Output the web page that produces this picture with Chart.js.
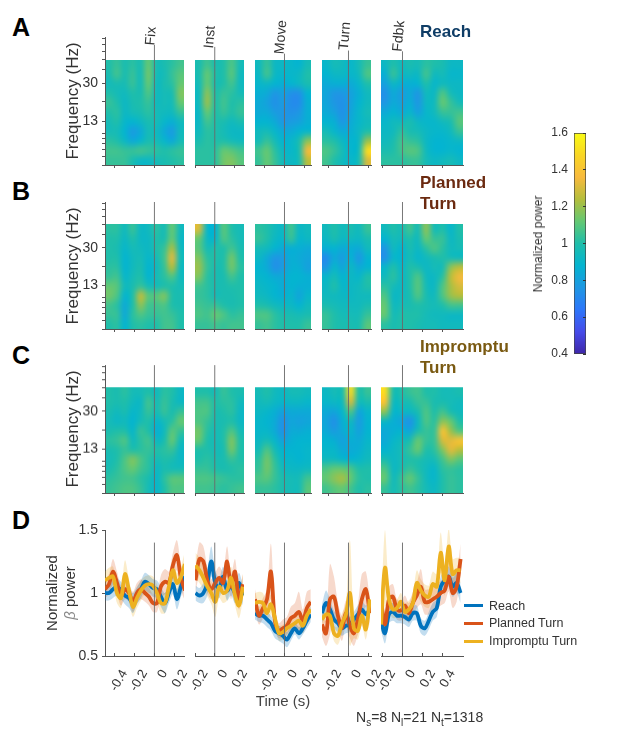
<!DOCTYPE html>
<html lang="en">
<head>
<meta charset="UTF-8">
<title>Normalized power</title>
<script src="https://cdn.jsdelivr.net/npm/chart.js@4"></script>
<style>
  html, body { margin: 0; padding: 0; background: #fff; }
  body { width: 617px; height: 738px; position: relative; overflow: hidden; font-family: "Liberation Sans", sans-serif; color: #333; }
  canvas { position: absolute; }
  .t { position: absolute; white-space: nowrap; line-height: 1; }
  .c { transform: translate(-50%, -50%); }
  .letter { font-weight: bold; font-size: 25px; color: #000; }
  .title { font-weight: bold; font-size: 17px; line-height: 21px; }
  sub { font-size: 10px; vertical-align: -4px; line-height: 0; }
</style>
</head>
<body>
<script>
// event panels
const panelNames = ['Fix', 'Inst', 'Move', 'Turn', 'Fdbk'];
const panelMin = [-0.495, -0.2, -0.296, -0.266, -0.216];
const panelMax = [0.296, 0.296, 0.266, 0.226, 0.608];
const panelTicks = [[-0.4, -0.2, 0, 0.2], [-0.2, 0, 0.2], [-0.2, 0, 0.2], [-0.2, 0, 0.2], [-0.2, 0, 0.2, 0.4]];

// frequency axis (Hz)
const freqTicks = [5, 6, 7, 8, 9, 10, 13, 20, 30, 40, 50, 60, 70, 80];
const freqLabels = [13, 30];
const freqImageTop = 50, freqImageBottom = 5, freqAxisTop = 82;
const eventTopReach = [69, 66, 57, 61, 60];

// power maps, percent of baseline, rows run from 50 Hz down to 5 Hz
const heatReach = [
  [[100,104,98,102,98,112,97,98,102,106],
   [98,106,98,104,96,114,96,96,104,110],
   [95,98,97,104,96,112,94,98,102,112],
   [100,96,94,100,98,108,94,96,98,116],
   [104,100,92,98,100,104,94,96,96,112],
   [100,102,92,96,98,102,96,94,94,104],
   [96,100,90,88,92,98,96,90,86,94],
   [96,96,88,78,84,96,94,84,78,94],
   [102,100,92,84,90,98,96,90,84,96],
   [106,106,104,104,106,104,102,100,102,104],
   [104,104,104,98,92,92,96,98,100,102]],
  [[98,106,98,100,108,96],
   [98,112,100,100,110,94],
   [96,112,98,100,106,94],
   [94,118,100,104,102,96],
   [94,120,100,106,100,102],
   [92,112,100,104,100,104],
   [92,106,100,98,94,98],
   [94,102,100,96,92,92],
   [98,102,100,100,96,94],
   [102,102,102,112,110,106],
   [102,102,102,114,116,110]],
  [[94,104,92,92,90,88,96],
   [92,106,92,90,90,92,100],
   [90,92,88,86,88,92,98],
   [86,84,76,80,74,74,88],
   [84,80,74,78,72,72,86],
   [84,84,78,76,74,76,86],
   [88,88,84,76,78,80,86],
   [94,96,90,84,84,88,90],
   [96,104,96,88,90,98,118],
   [106,112,102,92,90,98,135],
   [104,112,104,94,92,96,125]],
  [[90,96,94,90,96,104],
   [88,92,92,90,94,108],
   [84,86,86,84,90,100],
   [82,76,76,80,86,94],
   [82,76,74,80,88,94],
   [84,80,74,82,90,96],
   [88,86,76,84,90,94],
   [96,90,84,86,92,100],
   [102,100,92,88,92,120],
   [108,104,96,88,94,150],
   [106,100,94,90,96,130]],
  [[92,100,94,98,96,102,100,98,92,92],
   [86,104,92,94,92,106,94,96,90,90],
   [80,92,86,86,88,100,90,94,92,92],
   [74,84,78,84,76,94,92,108,96,92],
   [76,84,80,86,76,92,94,112,104,96],
   [84,88,84,90,80,90,94,104,104,106],
   [90,94,94,98,92,90,90,94,98,110],
   [92,94,102,98,96,92,90,90,94,104],
   [94,98,106,104,102,92,88,88,90,92],
   [98,100,106,110,108,94,88,88,90,88],
   [102,102,102,104,104,96,92,94,96,92]]
];
const heatPlanned = [
  [[102,102,94,104,92,94,102,96,112,94],
   [100,100,92,100,92,92,100,98,112,92],
   [100,98,90,96,94,92,100,104,122,94],
   [100,100,88,94,96,90,96,106,132,96],
   [102,102,88,94,98,88,94,104,124,94],
   [104,106,90,96,100,88,96,102,108,94],
   [112,110,94,98,104,96,96,100,100,96],
   [114,108,88,100,126,110,110,116,100,98],
   [106,102,84,100,118,106,106,108,100,98],
   [104,104,84,102,108,104,104,106,104,100],
   [100,102,88,100,102,100,100,106,106,100]],
  [[130,90,88,110,100,96],
   [112,92,90,108,102,96],
   [110,96,100,100,106,98],
   [116,102,100,100,114,100],
   [120,104,98,100,114,102],
   [116,102,98,98,106,100],
   [106,102,98,98,100,100],
   [104,102,96,98,98,100],
   [106,104,104,100,98,100],
   [108,106,112,108,102,104],
   [104,104,106,104,106,106]],
  [[102,100,94,92,106,92,94],
   [104,100,92,90,104,90,92],
   [96,94,88,84,86,86,84],
   [92,84,76,78,86,84,82],
   [88,84,74,78,86,86,80],
   [90,88,84,84,88,88,86],
   [92,90,88,84,88,86,86],
   [94,92,88,86,90,82,90],
   [100,98,94,92,92,88,94],
   [108,108,102,98,98,96,98],
   [104,106,102,100,100,100,104]],
  [[94,100,94,98,94,104],
   [92,98,92,94,92,98],
   [86,88,84,86,84,94],
   [72,84,78,88,76,88],
   [76,90,82,92,84,88],
   [90,96,88,92,90,100],
   [92,100,90,92,94,100],
   [94,94,92,92,94,94],
   [98,96,94,94,94,98],
   [104,100,96,96,96,104],
   [104,100,98,98,98,110]],
  [[94,100,96,106,96,118,96,100,90,100],
   [88,96,94,100,94,112,104,104,92,98],
   [76,94,88,98,92,102,108,102,94,96],
   [74,90,88,96,90,94,98,100,96,94],
   [90,100,90,100,98,92,96,96,118,125],
   [94,102,92,100,108,94,92,102,125,135],
   [102,96,92,100,110,96,92,108,122,130],
   [108,92,94,98,108,98,94,108,120,124],
   [112,94,96,98,100,98,96,100,106,106],
   [112,96,100,100,100,96,94,94,92,92],
   [102,98,100,100,98,96,96,94,94,94]]
];
const heatImpromptu = [
  [[100,98,102,96,96,100,94,102,100,92],
   [100,98,100,94,92,106,96,104,98,92],
   [98,94,98,90,94,104,96,104,98,104],
   [96,92,94,88,96,100,90,96,102,112],
   [98,100,100,90,104,100,86,94,110,104],
   [102,104,108,94,102,106,92,98,112,96],
   [98,100,104,100,102,104,100,102,104,92],
   [96,100,108,116,108,102,96,100,98,92],
   [98,102,108,112,106,102,92,98,96,96],
   [102,104,106,106,102,98,90,102,110,110],
   [104,106,108,108,104,96,90,100,108,108]],
  [[100,100,96,104,100,98],
   [106,106,100,102,102,94],
   [108,108,98,100,102,92],
   [108,104,98,98,100,92],
   [114,102,96,100,108,96],
   [112,100,96,100,116,100],
   [100,100,96,98,114,100],
   [100,102,98,98,104,100],
   [104,104,100,98,100,102],
   [108,108,106,104,102,102],
   [106,106,104,102,104,106]],
  [[96,100,94,92,96,96,94],
   [94,96,92,90,92,92,90],
   [92,90,86,80,84,84,84],
   [90,88,84,74,82,80,82],
   [90,90,84,74,84,84,86],
   [92,96,90,80,86,88,88],
   [96,108,96,88,88,88,90],
   [102,114,102,90,90,88,90],
   [104,114,104,94,92,92,94],
   [108,110,104,98,96,96,106],
   [104,104,102,98,96,96,110]],
  [[92,96,98,150,100,104],
   [90,92,94,130,96,98],
   [84,82,90,108,82,90],
   [82,74,86,94,78,88],
   [84,78,84,90,80,88],
   [88,86,80,86,84,90],
   [90,90,84,84,86,92],
   [94,94,90,88,90,94],
   [108,112,112,108,100,100],
   [112,118,122,112,102,100],
   [106,110,112,106,100,102]],
  [[150,98,100,104,106,100,100,96,96,98],
   [140,94,96,98,104,104,98,98,96,94],
   [118,90,92,92,98,108,100,106,98,94],
   [92,86,82,74,92,108,102,118,112,100],
   [84,86,88,82,98,104,104,140,120,108],
   [84,90,94,98,112,104,104,130,132,140],
   [88,92,96,104,112,100,102,116,132,125],
   [98,92,96,100,100,96,96,106,116,110],
   [108,92,98,104,100,94,90,102,104,102],
   [112,94,104,112,104,94,90,100,104,102],
   [104,96,102,106,102,96,92,100,104,102]]
];

// beta power traces, one sample every 0.04 s from lineStart of each panel
const lineStart = [-0.495, -0.195, -0.296, -0.266, -0.216];
const lineStep = 0.04;
const betaReach = [
  [1.0,1.0,1.03,1.05,1.02,.98,.96,.92,.98,1.03,1.09,1.07,1.04,1.03,.97,.92,1.0,1.07,.95,1.05,1.13],
  [1.0,.98,1.0,1.08,1.25,1.08,1.04,1.13,1.02,1.06,1.0,1.08,.98],
  [.84,.82,.82,.79,.76,.7,.68,.66,.63,.68,.72,.68,.72,.78,.83],
  [.84,.92,.87,.79,.76,.72,.74,.75,.79,.83,.87,.83,.87],
  [.78,.68,.83,.85,.82,.82,.81,.79,.84,.84,.74,.72,.78,.85,.88,1.05,1.1,1.13,1.05,1.08,1.0]
];
const betaPlanned = [
  [1.03,1.07,1.17,1.08,.98,1.03,1.0,.93,1.0,1.03,1.0,.97,.92,.92,1.05,1.09,1.08,1.22,1.3,1.12,1.02],
  [1.1,1.27,1.25,1.1,1.03,1.08,1.12,1.08,1.25,1.05,1.17,.95,1.07],
  [.95,.82,.88,.95,1.17,.78,.7,.72,.74,.8,.82,.85,.78,.88,.93],
  [.75,.68,.95,.97,.82,.72,.84,.74,.68,.79,.95,1.03,.84],
  [.95,.75,.95,.97,.87,.86,.9,.84,.92,.98,1.05,.93,.93,.95,.97,1.0,1.02,1.13,1.0,1.05,1.27]
];
const betaImpromptu = [
  [1.1,1.12,1.13,1.0,.96,1.15,1.02,.89,.96,1.02,1.06,1.07,1.06,1.0,.92,.92,1.05,1.18,1.08,1.13,1.23],
  [1.22,1.18,1.12,1.05,1.0,.93,1.05,1.0,1.02,1.12,.98,.9,1.05],
  [.92,.93,.92,.84,.91,.8,.68,.69,.72,.74,.76,.78,.74,.82,.87],
  [.79,.83,.82,.68,.66,.76,.83,1.0,.72,.7,.82,.71,.95],
  [.75,1.2,.95,.87,.88,.93,.85,.87,.92,1.08,1.02,.98,.97,1.07,1.05,1.32,1.1,1.37,1.15,1.18,1.18]
];
// half widths of the shaded bands
const ciReach = [
  [.06,.06,.07,.07,.07,.07,.08,.08,.07,.07,.07,.07,.07,.07,.08,.08,.08,.08,.08,.08,.08],
  [.06,.06,.08,.1,.12,.1,.08,.08,.08,.08,.08,.08,.08],
  [.05,.05,.06,.06,.06,.06,.06,.06,.06,.06,.05,.05,.05,.06,.06],
  [.07,.1,.08,.07,.07,.06,.06,.06,.06,.07,.07,.07,.07],
  [.08,.08,.07,.07,.06,.06,.06,.06,.06,.06,.06,.06,.07,.07,.07,.08,.08,.08,.08,.08,.08]
];
const ciPlanned = [
  [.07,.08,.1,.09,.08,.08,.07,.08,.08,.08,.07,.07,.07,.07,.09,.1,.09,.1,.12,.1,.08],
  [.1,.13,.12,.1,.08,.08,.09,.09,.12,.1,.1,.08,.08],
  [.08,.07,.08,.08,.22,.08,.06,.07,.07,.09,.1,.16,.09,.13,.1],
  [.1,.1,.28,.16,.1,.1,.1,.1,.1,.12,.2,.14,.1],
  [.1,.1,.1,.1,.08,.08,.08,.08,.09,.1,.14,.1,.1,.1,.1,.1,.1,.12,.12,.12,.12]
];
const ciImpromptu = [
  [.07,.08,.08,.08,.08,.11,.09,.08,.08,.08,.07,.07,.07,.07,.08,.08,.08,.1,.08,.08,.1],
  [.1,.1,.09,.08,.09,.12,.09,.08,.08,.09,.08,.1,.1],
  [.08,.08,.08,.07,.08,.07,.06,.06,.06,.06,.06,.07,.06,.07,.08],
  [.06,.06,.07,.06,.07,.08,.08,.42,.08,.07,.08,.08,.1],
  [.08,.3,.1,.07,.07,.07,.07,.07,.08,.1,.09,.09,.09,.1,.1,.16,.12,.14,.12,.1,.1]
];
const betaTop = 1.4;

// colormap
const parula = [[62,38,168],[70,75,233],[45,118,250],[30,151,227],[4,180,208],[31,190,170],[100,200,115],[180,190,60],[248,186,61],[249,214,36],[249,251,21]];
const colorMin = 0.4, colorMax = 1.6;
const colorTicks = [0.4, 0.6, 0.8, 1, 1.2, 1.4, 1.6];

const seriesColors = ['#0072bd', '#d95319', '#edb120'];
const bandColors = ['rgba(0,114,189,.24)', 'rgba(217,83,25,.22)', 'rgba(237,177,32,.24)'];
const seriesNames = ['Reach', 'Planned Turn', 'Impromptu Turn'];

// page layout in pixels
const panelLeft = [105, 195, 255, 322, 381];
const panelRight = [184, 244, 311, 371, 463];
const rowAxisTop = [37, 202, 365];
const rowBottom = [165, 329, 492.7];
const lineTop = 529.5, lineBottom = 656;
const mL = 50, mR = 24, mT = 12;

Chart.defaults.font.family = '"Liberation Sans", sans-serif';
Chart.defaults.color = '#333';
Chart.defaults.animation = false;

function addText(html, x, y, css, center) {
  const d = document.createElement('div');
  d.className = 't' + (center ? ' c' : '');
  d.innerHTML = html;
  d.style.left = x + 'px';
  d.style.top = y + 'px';
  d.style.cssText += css || '';
  document.body.appendChild(d);
  return d;
}

function addCanvas(x0, x1, y0, y1, mB) {
  const c = document.createElement('canvas');
  const w = x1 - x0 + mL + mR, h = y1 - y0 + mT + mB;
  c.style.left = (x0 - mL) + 'px';
  c.style.top = (y0 - mT) + 'px';
  c.style.width = w + 'px';
  c.style.height = h + 'px';
  c.width = w;
  c.height = h;
  document.body.appendChild(c);
  return c;
}

function colorOf(v) {
  let t = (v - colorMin) / (colorMax - colorMin) * (parula.length - 1);
  t = Math.max(0, Math.min(parula.length - 1.001, t));
  const i = Math.floor(t), f = t - i;
  return parula[i].map((c, k) => Math.round(c + (parula[i + 1][k] - c) * f));
}

// paints the map from the positions the scales gave the cell centres
const heatPlugin = {
  id: 'heat',
  beforeDatasetsDraw(chart) {
    const ds = chart.data.datasets[0];
    if (!ds.heatRows) return;
    const pts = chart.getDatasetMeta(0).data;
    const rows = ds.heatRows, nr = rows.length, nc = rows[0].length;
    const small = document.createElement('canvas');
    small.width = nc;
    small.height = nr;
    const sc = small.getContext('2d');
    const img = sc.createImageData(nc, nr);
    ds.data.forEach((p, i) => {
      const rgb = colorOf(p.v);
      img.data.set([rgb[0], rgb[1], rgb[2], 255], i * 4);
    });
    sc.putImageData(img, 0, 0);
    const halfX = (pts[1].x - pts[0].x) / 2, halfY = (pts[nc].y - pts[0].y) / 2;
    const x0 = pts[0].x - halfX, y0 = pts[0].y - halfY;
    const x1 = pts[nc - 1].x + halfX, y1 = pts[nc * nr - 1].y + halfY;
    const ctx = chart.ctx;
    ctx.save();
    ctx.imageSmoothingEnabled = true;
    ctx.imageSmoothingQuality = 'high';
    ctx.drawImage(small, x0, y0, x1 - x0, y1 - y0);
    ctx.restore();
  }
};

function noPadding(s) {
  s.paddingLeft = s.paddingRight = s.paddingTop = s.paddingBottom = 0;
}

function xScale(p, showLabels) {
  return {
    type: 'linear', min: panelMin[p], max: panelMax[p],
    border: { color: '#555', width: 1, z: 1 },
    grid: { drawOnChartArea: false, tickLength: showLabels ? -3 : 3, tickColor: '#555', z: 1 },
    ticks: {
      display: showLabels, autoSkip: false, minRotation: 60, maxRotation: 60, padding: 14, labelOffset: 10,
      font: { size: 13 }, color: '#333',
      callback: v => v === 0 ? '0' : v.toFixed(1)
    },
    afterBuildTicks: s => { s.ticks = panelTicks[p].map(v => ({ value: v })); },
    afterFit: s => {
      s.height = showLabels ? 50 : 6;
      noPadding(s);
    }
  };
}

function heatChart(rowData, r, p) {
  const rows = rowData[p];
  const nr = rows.length, nc = rows[0].length;
  const dt = (panelMax[p] - panelMin[p]) / nc;
  const cells = [];
  rows.forEach((row, i) => row.forEach((v, j) => cells.push({
    x: panelMin[p] + (j + 0.5) * dt,
    y: freqImageTop * Math.pow(freqImageBottom / freqImageTop, (i + 0.5) / nr),
    v: v / 100
  })));
  const top = r === 0 ? eventTopReach[p] : freqAxisTop;
  const showY = p === 0;
  new Chart(addCanvas(panelLeft[p], panelRight[p], rowAxisTop[r], rowBottom[r], 6), {
    type: 'scatter',
    data: { datasets: [
      { data: cells, heatRows: rows, pointRadius: 0, order: 2 },
      { data: [{ x: 0, y: freqImageBottom }, { x: 0, y: top }], showLine: true, pointRadius: 0, borderWidth: 1, borderColor: 'rgba(105,105,105,.9)', clip: false, order: 1 }
    ] },
    options: {
      responsive: false,
      layout: { padding: { left: 0, right: mR, top: mT, bottom: 0 } },
      plugins: { legend: { display: false }, tooltip: { enabled: false } },
      scales: {
        x: xScale(p, false),
        y: {
          type: 'logarithmic', min: freqImageBottom, max: freqAxisTop, display: showY,
          border: { color: '#555', width: 1, z: 1 },
          grid: { drawOnChartArea: false, tickLength: 3, tickColor: '#555' },
          ticks: { autoSkip: false, padding: 4, font: { size: 14 }, color: '#333', callback: v => freqLabels.includes(v) ? String(v) : '' },
          afterBuildTicks: s => { s.ticks = freqTicks.map(v => ({ value: v })); },
          afterFit: s => { s.width = mL; noPadding(s); }
        }
      }
    },
    plugins: [heatPlugin]
  });
}

function lineChart(p) {
  const means = [betaReach[p], betaPlanned[p], betaImpromptu[p]];
  const cis = [ciReach[p], ciPlanned[p], ciImpromptu[p]];
  const pts = (arr) => arr.map((v, i) => ({ x: lineStart[p] + i * lineStep, y: v }));
  const datasets = [];
  means.forEach((m, s) => {
    datasets.push({ data: pts(m.map((v, i) => v + cis[s][i])), pointRadius: 0, borderWidth: 0, tension: 0.3, fill: '+1', backgroundColor: bandColors[s], order: 10 + s });
    datasets.push({ data: pts(m.map((v, i) => v - cis[s][i])), pointRadius: 0, borderWidth: 0, tension: 0.3, order: 10 + s });
  });
  means.forEach((m, s) => {
    datasets.push({ label: seriesNames[s], data: pts(m), pointRadius: 0, borderWidth: 3.8, borderColor: seriesColors[s], tension: 0.35, order: 5 - s });
  });
  datasets.push({ data: [{ x: 0, y: 0.5 }, { x: 0, y: betaTop }], showLine: true, pointRadius: 0, borderWidth: 1, borderColor: 'rgba(105,105,105,.9)', order: 1 });
  const showY = p === 0;
  new Chart(addCanvas(panelLeft[p], panelRight[p], lineTop, lineBottom, 50), {
    type: 'scatter',
    data: { datasets: datasets.map(d => Object.assign({ showLine: true }, d)) },
    options: {
      responsive: false,
      layout: { padding: { left: 0, right: mR, top: mT, bottom: 0 } },
      plugins: { legend: { display: false }, tooltip: { enabled: false } },
      scales: {
        x: xScale(p, true),
        y: {
          type: 'linear', min: 0.5, max: 1.5, display: showY,
          border: { color: '#555', width: 1 },
          grid: { drawOnChartArea: false, tickLength: 3, tickColor: '#555' },
          ticks: { stepSize: 0.5, padding: 4, font: { size: 14 }, color: '#333', callback: v => String(v) },
          afterFit: s => { s.width = mL; noPadding(s); }
        }
      }
    }
  });
}

function colorBar() {
  const c = addCanvas(574, 586, 133.3, 354.5, 6);
  new Chart(c, {
    type: 'bar',
    data: { labels: [''], datasets: [{
      data: [[colorMin, colorMax]], categoryPercentage: 1, barPercentage: 1,
      borderColor: '#444', borderWidth: 1, borderSkipped: false,
      backgroundColor: ctx => {
        const a = ctx.chart.chartArea;
        if (!a) return '#888';
        const g = ctx.chart.ctx.createLinearGradient(0, a.bottom, 0, a.top);
        parula.forEach((rgb, i) => g.addColorStop(i / (parula.length - 1), 'rgb(' + rgb.join(',') + ')'));
        return g;
      }
    }] },
    options: {
      responsive: false,
      layout: { padding: { left: 0, right: mR, top: mT, bottom: 0 } },
      plugins: { legend: { display: false }, tooltip: { enabled: false } },
      scales: {
        x: { display: false, afterFit: s => { s.height = 6; noPadding(s); } },
        y: {
          type: 'linear', min: colorMin, max: colorMax, position: 'left',
          border: { display: false }, grid: { display: false, drawTicks: false },
          ticks: { padding: 6, font: { size: 12 }, color: '#333', callback: v => String(+v.toFixed(1)) },
          afterBuildTicks: s => { s.ticks = colorTicks.map(v => ({ value: v })); },
          afterFit: s => { s.width = mL; noPadding(s); }
        },
        y1: {
          type: 'linear', axis: 'y', min: colorMin, max: colorMax, position: 'right',
          border: { display: false },
          grid: { drawOnChartArea: false, tickLength: -3, tickColor: '#333', z: 1 },
          ticks: { display: false },
          afterBuildTicks: s => { s.ticks = colorTicks.map(v => ({ value: v })); },
          afterFit: s => { s.width = 0; noPadding(s); }
        }
      }
    }
  });
}

[heatReach, heatPlanned, heatImpromptu].forEach((rowData, r) => {
  panelNames.forEach((name, p) => heatChart(rowData, r, p));
});
panelNames.forEach((name, p) => lineChart(p));
colorBar();

// letters and titles
addText('A', 12, 15, '', false).className += ' letter';
addText('B', 12, 179, '', false).className += ' letter';
addText('C', 12, 343, '', false).className += ' letter';
addText('D', 12, 508, '', false).className += ' letter';
addText('Reach', 420, 21, 'color:#0f3d66', false).className += ' title';
addText('Planned<br>Turn', 420, 172, 'color:#6b2a10', false).className += ' title';
addText('Impromptu<br>Turn', 420, 336, 'color:#7a5a12', false).className += ' title';

// event names above the first row
const eventLabelX = [150, 209, 280, 344, 398];
const eventLabelY = [35.5, 36.5, 36.5, 36, 36];
panelNames.forEach((name, p) => {
  addText(name, eventLabelX[p], eventLabelY[p], 'font-size:14px;transform:translate(-50%,-50%) rotate(-85deg)', false);
});

// axis titles
const freqTitleY = [101, 266, 429];
freqTitleY.forEach(y => addText('Frequency (Hz)', 72, y, 'font-size:17px;transform:translate(-50%,-50%) rotate(-90deg)', false));
addText('Normalized', 51, 593, 'font-size:15px;transform:translate(-50%,-50%) rotate(-90deg)', false);
addText('<i style="color:#888">β</i> power', 69, 593, 'font-size:15px;transform:translate(-50%,-50%) rotate(-90deg)', false);
addText('Time (s)', 283, 700, 'font-size:15px;color:#444', true);
addText('N<sub>s</sub>=8 N<sub>l</sub>=21 N<sub>t</sub>=1318', 356, 710, 'font-size:14px', false);
addText('Normalized power', 538, 244, 'font-size:12px;transform:translate(-50%,-50%) rotate(-90deg)', false);

// legend
const legendY = [605.7, 623.3, 641.3];
seriesNames.forEach((name, s) => {
  const sw = addText('', 464, legendY[s] - 1.5, 'width:19px;height:3px;background:' + seriesColors[s], false);
  addText(name, 489, legendY[s] - 6, 'font-size:12.5px', false);
});
</script>
</body>
</html>
